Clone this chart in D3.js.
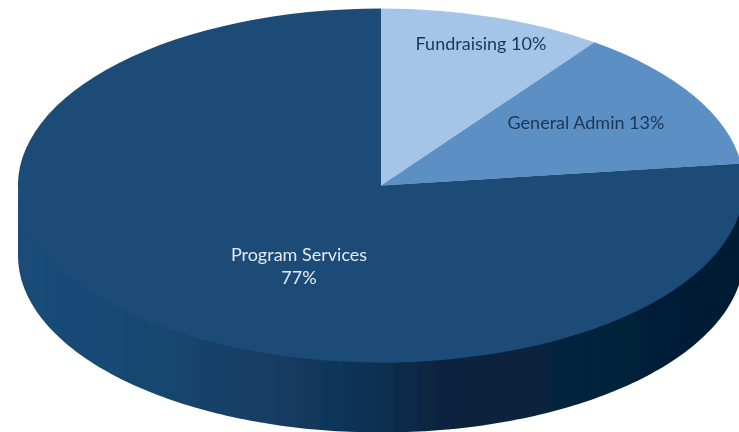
<!DOCTYPE html>
<html>
<head>
<meta charset="utf-8">
<script src="https://cdn.jsdelivr.net/npm/d3@7"></script>
<style>
  html, body { margin: 0; padding: 0; background: #fff; }
  svg { display: block; }
  text { font-family: Lato, "Open Sans", sans-serif; font-size: 18px; }
</style>
</head>
<body>
<div id="chart-area"></div>
<script>
var categories = ["Fundraising", "General Admin", "Program Services"]
var shares = [10, 13, 77]

var width = 739, height = 432
var center = {x: 381, y: 185.5}
var rx = 363, ry = 177, depth = 70

var colors = ["#a4c5e8", "#5b90c5", "#1b4c77"]
var textColors = ["#1e3555", "#1e3555", "#e4eaf2"]
// label centres, first line baseline
var labelPos = [[481, 50], [586, 129], [299, 261]]

var svg = d3.select("#chart-area")
	.append("svg")
	.attr("width", width)
	.attr("height", height)

var defs = svg.append("defs")

defs.append("filter")
	.attr("id", "soft")
	.append("feGaussianBlur")
	.attr("stdDeviation", 0.6)

defs.append("filter")
	.attr("id", "softText")
	.append("feGaussianBlur")
	.attr("stdDeviation", 0.35)

var sideGrad = defs.append("linearGradient")
	.attr("id", "side")
	.attr("gradientUnits", "userSpaceOnUse")
	.attr("x1", center.x - rx)
	.attr("x2", center.x + rx)
	.attr("y1", 0)
	.attr("y2", 0)

var sideStops = [[0, "#1a4c79"], [0.2, "#174670"], [0.38, "#133a60"], [0.5, "#0e2f50"], [0.58, "#08243f"], [0.8, "#06213b"], [1, "#041c33"]]
sideStops.forEach(function(s){
	sideGrad.append("stop").attr("offset", s[0]).attr("stop-color", s[1])
})

var pie = d3.pie().sort(null).startAngle(0).endAngle(2 * Math.PI)
var arcs = pie(shares)

// unit circle arc, squashed into the ellipse by the group's transform
var arc = d3.arc().innerRadius(0).outerRadius(1)

var chart = svg.append("g").attr("filter", "url(#soft)")

// visible wall: the lower half of the rim pushed down by depth
// starts a little above the rim so no white shows through the seam
var wall = d3.area()
	.x(function(t){ return center.x + rx * Math.cos(t) })
	.y0(function(t){ return center.y + ry * Math.sin(t) - 3 })
	.y1(function(t){ return center.y + ry * Math.sin(t) + depth })

chart.append("path")
	.attr("d", wall(d3.range(0, 181).map(function(a){ return a * Math.PI / 180 })))
	.attr("fill", "url(#side)")

chart.append("g")
	.attr("transform", "translate(" + center.x + "," + center.y + ") scale(" + rx + "," + ry + ")")
	.selectAll("path")
	.data(arcs)
	.enter().append("path")
		.attr("d", arc)
		.attr("fill", function(d, i){ return colors[i] })

var labels = svg.selectAll("text.label")
	.data(categories)
	.enter().append("text")
		.attr("class", "label")
		.attr("text-anchor", "middle")
		.attr("filter", "url(#softText)")
		.attr("x", function(d, i){ return labelPos[i][0] })
		.attr("y", function(d, i){ return labelPos[i][1] })
		.attr("fill", function(d, i){ return textColors[i] })

labels.each(function(d, i){
	var t = d3.select(this)
	if (shares[i] > 50) {
		t.append("tspan").text(d)
		t.append("tspan")
			.attr("x", labelPos[i][0])
			.attr("dy", 23)
			.text(shares[i] + "%")
	} else {
		t.text(d + " " + shares[i] + "%")
	}
})
</script>
</body>
</html>
